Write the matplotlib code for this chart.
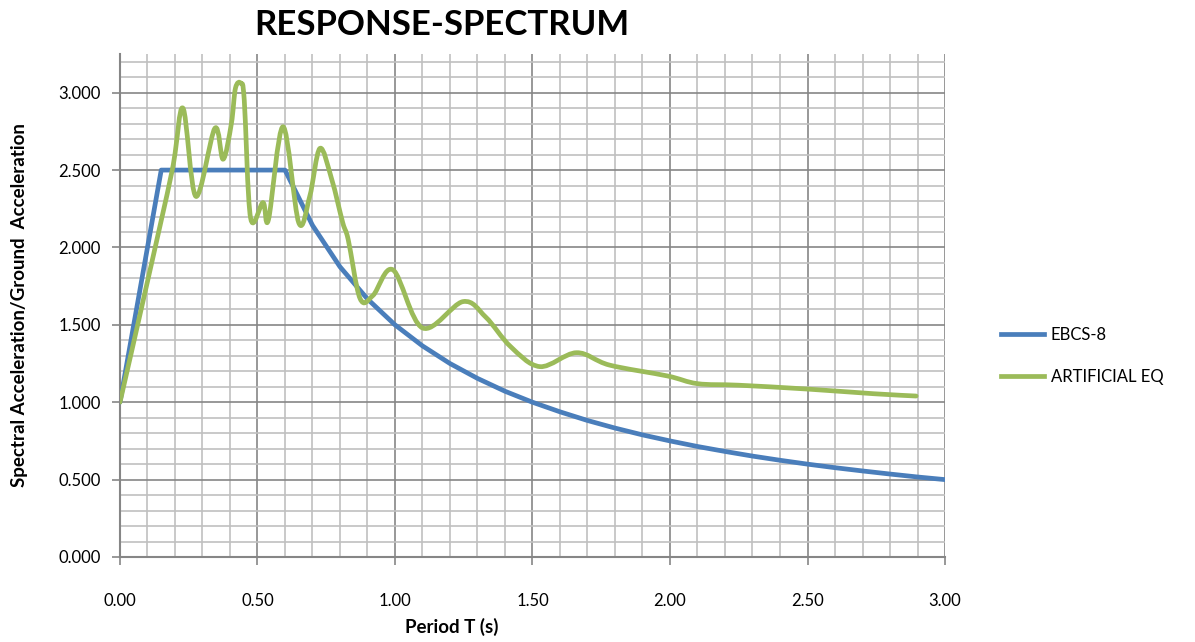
import numpy as np
import matplotlib.pyplot as plt
from matplotlib.path import Path
from matplotlib.patches import PathPatch
from matplotlib.lines import Line2D
from matplotlib.ticker import MultipleLocator, FormatStrFormatter

plt.rcParams['font.family'] = ['Lato', 'DejaVu Sans']

# EBCS-8 design spectrum
ebcs_T = [0.0, 0.15, 0.2, 0.3, 0.4, 0.5, 0.6, 0.7, 0.8, 0.9, 1.0, 1.1, 1.2, 1.3,
          1.4, 1.5, 1.6, 1.7, 1.8, 1.9, 2.0, 2.1, 2.2, 2.3, 2.4, 2.5, 2.6, 2.7,
          2.8, 2.9, 3.0]
ebcs_S = [1.0, 2.5, 2.5, 2.5, 2.5, 2.5, 2.5, 2.143, 1.875, 1.667, 1.5, 1.364,
          1.25, 1.154, 1.071, 1.0, 0.938, 0.882, 0.833, 0.789, 0.75, 0.714,
          0.682, 0.652, 0.625, 0.6, 0.577, 0.556, 0.536, 0.517, 0.5]

# artificial earthquake spectrum
art_T = [0.0, 0.1, 0.19, 0.229, 0.276, 0.345, 0.375, 0.405, 0.42, 0.44,
         0.452, 0.475, 0.52, 0.54, 0.593, 0.65, 0.69, 0.727, 0.77, 0.81, 0.83,
         0.873, 0.92, 0.993, 1.10, 1.247, 1.33, 1.42, 1.527, 1.66, 1.78, 1.99,
         2.10, 2.25, 2.50, 2.74, 2.895]
art_S = [1.0, 1.78, 2.5, 2.90, 2.33, 2.77, 2.57, 2.80, 3.03, 3.06, 2.95, 2.19,
         2.29, 2.18, 2.78, 2.16, 2.33, 2.64, 2.44, 2.16, 2.05, 1.67, 1.69,
         1.855, 1.48, 1.65, 1.55, 1.36, 1.23, 1.32, 1.24, 1.17, 1.12, 1.11,
         1.085, 1.055, 1.04]

blue = '#4a7ebb'
green = '#9bbb59'


def smooth_path(x, y):
    # Excel-style smoothed line: Catmull-Rom segments as cubic Beziers
    p = np.column_stack([x, y])
    verts = [p[0]]
    codes = [Path.MOVETO]
    n = len(p)
    for i in range(n - 1):
        p0 = p[i - 1] if i > 0 else p[i]
        p1 = p[i]
        p2 = p[i + 1]
        p3 = p[i + 2] if i + 2 < n else p[i + 1]
        verts += [p1 + (p2 - p0) / 6, p2 - (p3 - p1) / 6, p2]
        codes += [Path.CURVE4] * 3
    return Path(verts, codes)


fig = plt.figure(figsize=(11.95, 6.42), dpi=100)
ax = fig.add_axes([0.1004, 0.1324, 0.6904, 0.7835])

ax.plot(ebcs_T, ebcs_S, color=blue, lw=3.4, solid_capstyle='round',
        solid_joinstyle='round', zorder=3)
ax.add_patch(PathPatch(smooth_path(art_T, art_S), fill=False, edgecolor=green,
                       lw=3.4, capstyle='round', joinstyle='round', zorder=4))

ax.set_xlim(0, 3.0)
ax.set_ylim(0, 3.25)
ax.xaxis.set_major_locator(MultipleLocator(0.5))
ax.xaxis.set_minor_locator(MultipleLocator(0.1))
ax.yaxis.set_major_locator(MultipleLocator(0.5))
ax.yaxis.set_minor_locator(MultipleLocator(0.1))
ax.xaxis.set_major_formatter(FormatStrFormatter('%.2f'))
ax.yaxis.set_major_formatter(FormatStrFormatter('%.3f'))

ax.grid(which='major', color='#868686', lw=1.2)
ax.grid(which='minor', color='#c0c0c0', lw=1.2)
ax.set_axisbelow(True)

for s in ['top', 'right']:
    ax.spines[s].set_visible(False)
for s in ['left', 'bottom']:
    ax.spines[s].set_color('#868686')
    ax.spines[s].set_linewidth(1.5)

ax.tick_params(which='major', length=6, width=1.2, color='#868686',
               labelsize=12, labelcolor='black')
ax.tick_params(axis='y', which='major', pad=8)
ax.tick_params(axis='x', which='major', pad=20)
ax.tick_params(which='minor', length=0)

ax.set_xlabel('Period T (s)', fontsize=13.5, fontweight='bold', va='center')
ax.xaxis.set_label_coords(0.402, -0.139)
ax.set_ylabel('Spectral Acceleration/Ground  Acceleration', fontsize=13.5,
              fontweight='bold', va='center')
ax.yaxis.set_label_coords(-0.122, 0.5)

fig.text(0.37, 0.961, 'RESPONSE-SPECTRUM', fontsize=25, fontweight='bold',
         ha='center', va='center')

handles = [Line2D([], [], color=blue, lw=3.4),
           Line2D([], [], color=green, lw=3.4)]
fig.legend(handles, ['EBCS-8', 'ARTIFICIAL EQ'], loc='center left',
           bbox_to_anchor=(0.825, 0.446), frameon=False, fontsize=12,
           handlelength=2.6, handletextpad=0.4, labelspacing=1.55)

fig.savefig('out.png', dpi=100)
